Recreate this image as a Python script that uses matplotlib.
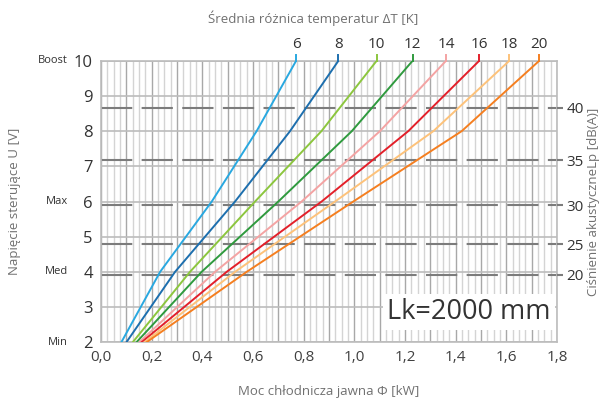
import matplotlib
matplotlib.use('Agg')
import matplotlib.pyplot as plt
import numpy as np

plt.rcParams['font.family'] = ['Open Sans', 'DejaVu Sans']

#%% DATA

voltage = [2, 4, 6, 8, 10]
curves = {
    '6':  [0.080, 0.233, 0.437, 0.614, 0.770],
    '8':  [0.100, 0.292, 0.529, 0.746, 0.937],
    '10': [0.125, 0.351, 0.608, 0.870, 1.088],
    '12': [0.140, 0.397, 0.700, 0.990, 1.230],
    '14': [0.151, 0.450, 0.792, 1.101, 1.362],
    '16': [0.160, 0.496, 0.871, 1.213, 1.493],
    '18': [0.171, 0.529, 0.924, 1.312, 1.612],
    '20': [0.180, 0.575, 0.996, 1.424, 1.730],
}
colors = ['#29a8e0', '#1d6fae', '#8cc63e', '#2f9a3e', '#f4a3a3', '#e3202a', '#fdc27a', '#f57f20']

db_values = [20, 25, 30, 35, 40]
db_voltage = [3.92, 4.79, 5.89, 7.17, 8.67]

y_ticks = [2, 3, 4, 5, 6, 7, 8, 9, 10]
mode_labels = {2: 'Min', 4: 'Med', 6: 'Max', 10: 'Boost'}
x_ticks = [0.0, 0.2, 0.4, 0.6, 0.8, 1.0, 1.2, 1.4, 1.6, 1.8]

#%% PLOT

fig = plt.figure(figsize=(6.02, 4.03), dpi=100)
ax = fig.add_axes([0.168, 0.151, 0.757, 0.698])

ax.set_xlim(0, 1.8)
ax.set_ylim(2, 10)

# grid
ax.set_xticks(np.arange(0, 1.8001, 0.025), minor=True)
ax.grid(which='minor', axis='x', color='#d4d4d4', lw=1.0)
ax.grid(which='major', axis='x', color='#a8a8a8', lw=1.0)
ax.set_yticks(y_ticks)
ax.grid(which='major', axis='y', color='#bcbcbc', lw=1.2)
ax.set_axisbelow(True)

for spine in ax.spines.values():
    spine.set_color('#bcbcbc')
    spine.set_linewidth(1.2)

# noise level dashed lines
for v in db_voltage:
    ax.axhline(v, color='#7c7c7c', lw=1.5, dashes=(15, 4.5), zorder=1.5)

# curves
for (label, xs), c in zip(curves.items(), colors):
    ax.plot(xs, voltage, color=c, lw=1.4, zorder=3)
    ax.plot([xs[-1], xs[-1]], [10, 10.17], color=c, lw=1.4, clip_on=False, zorder=3)
    ax.text(xs[-1], 10.25, label, ha='center', va='bottom', fontsize=11, color='#333333')

# x axis
major_x = np.arange(0, 1.8001, 0.1)
ax.set_xticks(major_x)
ax.set_xticklabels([f'{v:.1f}'.replace('.', ',') if round(v, 1) in x_ticks else '' for v in major_x],
                   fontsize=11, color='#404040')
ax.tick_params(axis='x', which='both', length=0, pad=6)
ax.set_xlabel('Moc chłodnicza jawna Φ [kW]', fontsize=9.5, color='#707070', labelpad=14)

# y axis
ax.set_yticklabels([str(v) for v in y_ticks], fontsize=12, color='#333333')
ax.tick_params(axis='y', which='both', length=0, pad=6)
for v, name in mode_labels.items():
    ax.annotate(name, xy=(0, v), xytext=(-24, 0), textcoords='offset points',
                ha='right', va='center', fontsize=8, color='#333333')
ax.set_ylabel('Napięcie sterujące U [V]', fontsize=9.5, color='#707070', labelpad=38)

# top label
fig.text(0.52, 0.955, 'Średnia różnica temperatur ΔT [K]', ha='center', va='center',
         fontsize=9.5, color='#707070')

# right axis (sound pressure)
ax2 = ax.twinx()
ax2.set_ylim(2, 10)
ax2.set_yticks(db_voltage)
ax2.set_yticklabels([str(v) for v in db_values], fontsize=11, color='#333333')
ax2.tick_params(axis='y', length=4, width=1.5, color='#7c7c7c', pad=3)
for spine in ax2.spines.values():
    spine.set_visible(False)
ax2.set_ylabel('Ciśnienie akustyczneLp [dB(A)]', fontsize=9.5, color='#707070', labelpad=2)

# length box
ax.text(1.453, 2.85, 'Lk=2000 mm', ha='center', va='center', fontsize=19.5, color='#333333',
        bbox=dict(facecolor='white', edgecolor='none', pad=3), zorder=4)

plt.savefig('out.png', dpi=100)
plt.close()
